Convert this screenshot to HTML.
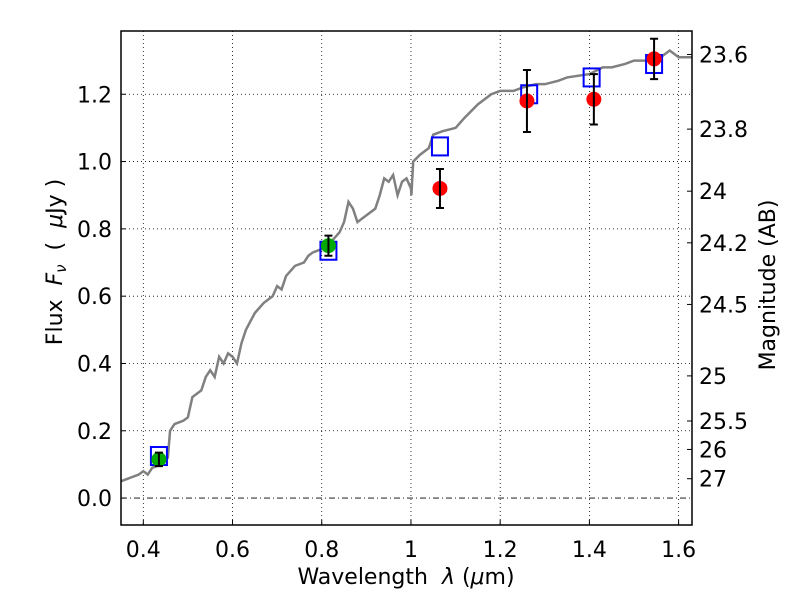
<!DOCTYPE html>
<html><head><meta charset="utf-8"><style>
body{margin:0;background:#fff}
svg text{font-family:"DejaVu Sans","Liberation Sans",sans-serif;white-space:pre}
</style></head><body>
<svg id="chart" width="800" height="600" xmlns="http://www.w3.org/2000/svg">
<rect width="800" height="600" fill="#fff"/>
</svg>
<script>
const specX=[0.35,0.37,0.39,0.40,0.41,0.42,0.44,0.455,0.46,0.47,0.49,0.50,0.51,0.53,0.54,0.55,0.56,0.57,0.58,0.59,0.60,0.61,0.62,0.63,0.65,0.67,0.69,0.70,0.71,0.72,0.74,0.76,0.77,0.78,0.80,0.82,0.84,0.85,0.86,0.87,0.88,0.90,0.92,0.93,0.94,0.95,0.96,0.97,0.98,0.99,1.00,1.001,1.005,1.02,1.04,1.05,1.07,1.10,1.12,1.15,1.18,1.20,1.23,1.25,1.28,1.30,1.33,1.35,1.40,1.43,1.45,1.48,1.50,1.53,1.56,1.58,1.60,1.63];
const specY=[0.05,0.06,0.07,0.08,0.07,0.09,0.10,0.12,0.20,0.22,0.23,0.24,0.30,0.32,0.36,0.38,0.36,0.42,0.40,0.43,0.42,0.40,0.46,0.50,0.55,0.58,0.60,0.63,0.62,0.66,0.69,0.70,0.72,0.73,0.74,0.76,0.79,0.82,0.88,0.86,0.82,0.84,0.86,0.90,0.95,0.94,0.96,0.90,0.94,0.95,0.92,0.90,1.00,1.02,1.04,1.08,1.09,1.10,1.13,1.17,1.20,1.21,1.21,1.22,1.23,1.23,1.24,1.25,1.26,1.28,1.28,1.29,1.30,1.30,1.31,1.33,1.31,1.31];
const redX=[1.065,1.26,1.41,1.545];
const redY=[0.92,1.18,1.185,1.305];
const redErr=[0.058,0.092,0.075,0.06];
const greenX=[0.435,0.815];
const greenY=[0.115,0.75];
const greenErr=[0.02,0.03];
const blueX=[0.435,0.815,1.065,1.265,1.405,1.545];
const blueY=[0.125,0.735,1.045,1.20,1.25,1.29];
const xTicks=[0.4,0.6,0.8,1.0,1.2,1.4,1.6];
const xTickLabels=["0.4","0.6","0.8","1","1.2","1.4","1.6"];
const yTicks=[0,0.2,0.4,0.6,0.8,1.0,1.2];
const yTickLabels=["0.0","0.2","0.4","0.6","0.8","1.0","1.2"];
const magTicks=[23.6,23.8,24,24.2,24.5,25,25.5,26,27];
const magLabels=["23.6","23.8","24","24.2","24.5","25","25.5","26","27"];

const L=121,R=692,T=31,B=525,X0=0.35,X1=1.63,Y0=-0.08,Y1=1.388;
const sx=v=>L+(v-X0)/(X1-X0)*(R-L);
const sy=v=>B-(v-Y0)/(Y1-Y0)*(B-T);
const svg=document.getElementById('chart');
const NS='http://www.w3.org/2000/svg';
function mk(tag,attrs,parent){const e=document.createElementNS(NS,tag);for(const k in attrs)e.setAttribute(k,attrs[k]);(parent||svg).appendChild(e);return e;}

xTicks.forEach((v,i)=>{
 const g=mk('line',{x1:sx(v),x2:sx(v),y1:T,y2:B,stroke:'#000','stroke-width':0.8,'stroke-dasharray':'1,3'});
 
 
 const t=mk('line',{x1:sx(v),x2:sx(v),y1:B,y2:B-5,stroke:'#000'});
 
 
 const l=mk('text',{x:sx(v),y:B+32,'font-size':22,'text-anchor':'middle'});
 l.textContent=xTickLabels[i];
 
 
});
yTicks.forEach((v,i)=>{
 if(v!==0){const g=mk('line',{x1:L,x2:R,y1:sy(v),y2:sy(v),stroke:'#000','stroke-width':0.8,'stroke-dasharray':'1,3'});
 
 }
 const t=mk('line',{x1:L,x2:L+5,y1:sy(v),y2:sy(v),stroke:'#000'});
 
 
 const l=mk('text',{x:L-9,y:sy(v)+8,'font-size':22,'text-anchor':'end'});
 l.textContent=yTickLabels[i];
 
 
});
const z=mk('line',{x1:L,x2:R,y1:sy(0),y2:sy(0),stroke:'#000','stroke-width':0.8,'stroke-dasharray':'6,3,1,3'});


magTicks.forEach((m,i)=>{
 const f=Math.pow(10,(23.9-m)/2.5);
 const t=mk('line',{x1:R,x2:R-5,y1:sy(f),y2:sy(f),stroke:'#000'});
 
 
 const l=mk('text',{x:R+7,y:sy(f)+8,'font-size':22});
 l.textContent=magLabels[i];
 
 
});
const p=mk('polyline',{points:specX.map((x,i)=>sx(x)+','+sy(specY[i])).join(' '),fill:'none',stroke:'#808080','stroke-width':2.5});


blueX.forEach((x,i)=>{
 const r=mk('rect',{x:sx(x)-8,y:sy(blueY[i])-9,width:16,height:18,fill:'none',stroke:'#0000ff','stroke-width':2});
 
 
});
function pts(xs,ys,es,col,name){
 xs.forEach((x,i)=>{
  const cx=sx(x),y=ys[i],e=es[i];
  const c=mk('circle',{cx:cx,cy:sy(y),r:7.5,fill:col});
  
  
  const g=mk('path',{d:`M${cx},${sy(y-e)}V${sy(y+e)}M${cx-4},${sy(y-e)}h8M${cx-4},${sy(y+e)}h8`,stroke:'#000','stroke-width':2,fill:'none'});
  
  
 });
}
pts(greenX,greenY,greenErr,'#00aa00','optical-point');
pts(redX,redY,redErr,'#ff0000','nir-point');
</script>
<svg width="800" height="600" style="position:absolute;left:0;top:0" xmlns="http://www.w3.org/2000/svg">
<rect x="121" y="31" width="571" height="494" fill="none" stroke="#000" stroke-width="1.5"/>
<text x="406" y="584" font-size="22" text-anchor="middle" font-family="DejaVu Sans,sans-serif">Wavelength&#160;&#160;<tspan font-style="italic">λ</tspan>&#160;(<tspan font-style="italic">μ</tspan>m)</text>
<text transform="translate(62,262) rotate(-90)" font-size="22" text-anchor="middle" font-family="DejaVu Sans,sans-serif">Flux&#160;&#160;<tspan font-style="italic">F</tspan><tspan font-style="italic" font-size="15" dy="4">ν</tspan><tspan dy="-4">&#160;&#160;(&#160;&#160;</tspan><tspan font-style="italic">μ</tspan>Jy&#160;)</text>
<text transform="translate(775,285) rotate(-90)" font-size="22" text-anchor="middle" font-family="DejaVu Sans,sans-serif">Magnitude (AB)</text>
</svg>
</body></html>
